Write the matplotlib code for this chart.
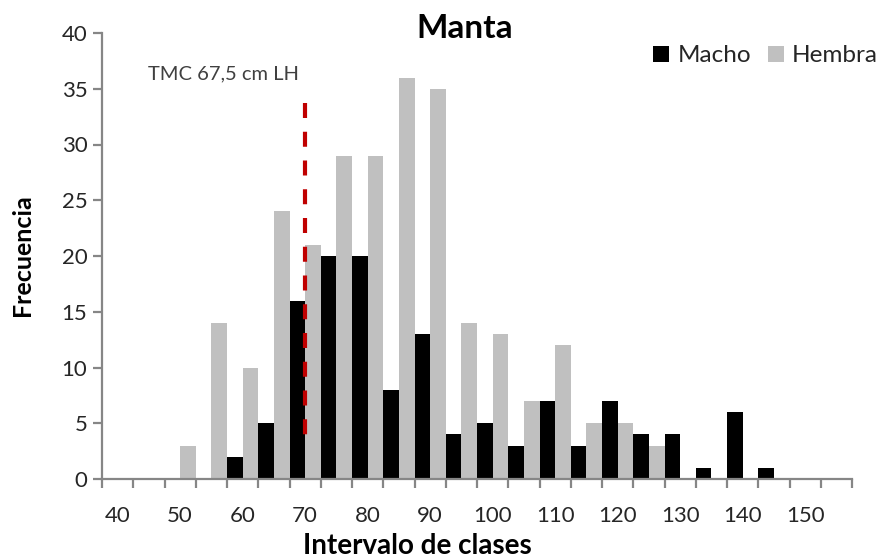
import matplotlib.pyplot as plt
import numpy as np

plt.rcParams['font.family'] = ['Lato', 'DejaVu Sans']

# clases de talla (cm LH)
clases = [40, 45, 50, 55, 60, 65, 70, 75, 80, 85, 90, 95, 100, 105, 110,
          115, 120, 125, 130, 135, 140, 145, 150, 155]
macho = [0, 0, 0, 0, 2, 5, 16, 20, 20, 8, 13, 4, 5, 3, 7, 3, 7, 4, 4, 1, 6, 1, 0, 0]
hembra = [0, 0, 3, 14, 10, 24, 21, 29, 29, 36, 35, 14, 13, 7, 12, 5, 5, 3, 0, 0, 0, 0, 0, 0]
etiquetas = [str(c) if c % 10 == 0 else '' for c in clases]

tmc_clase = 70
tmc_linea = [3.8, 33.7]

W, H = 880, 557
gris_eje = '#868686'
texto = '#262626'
fig = plt.figure(figsize=(W / 100, H / 100), dpi=100)
ax = fig.add_axes([102 / W, 1 - 479 / H, 750 / W, 446 / H])

x = np.arange(len(clases))
ax.bar(x - 0.25, macho, width=0.5, color='black', label='Macho')
ax.bar(x + 0.25, hembra, width=0.5, color='#c0c0c0', label='Hembra')

# linea del TMC
xi = clases.index(tmc_clase)
ax.plot([xi, xi], tmc_linea[::-1], color='#c00000', lw=3, ls=(0, (3.6, 3.3)))
fig.text(148 / W, 1 - 79 / H, 'TMC 67,5 cm LH', fontsize=14.5, color='#404040', va='baseline')

ax.set_xlim(-0.5, len(clases) - 0.5)
ax.set_ylim(0, 40)
ax.set_yticks(range(0, 41, 5))
ax.set_xticks(np.arange(len(clases) + 1) - 0.5)
ax.set_xticklabels([])
for i, et in enumerate(etiquetas):
    if et:
        ax.text(i, -3.82, et, ha='center', va='baseline', fontsize=16, color=texto)

for s in ['top', 'right']:
    ax.spines[s].set_visible(False)
for s in ['left', 'bottom']:
    ax.spines[s].set_color(gris_eje)
    ax.spines[s].set_linewidth(1.6)
ax.tick_params(axis='both', direction='out', length=6.5, width=1.6, color=gris_eje)
ax.tick_params(axis='y', labelsize=16, labelcolor=texto, pad=4)

fig.text(465 / W, 1 - 37.5 / H, 'Manta', fontsize=24, fontweight='bold',
         ha='center', va='baseline')
fig.text(417 / W, 1 - 553.5 / H, 'Intervalo de clases', fontsize=20, fontweight='bold',
         ha='center', va='baseline')
fig.text(23 / W, 1 - 255 / H, 'Frecuencia', fontsize=18, fontweight='bold',
         rotation=90, ha='center', va='center')

ax.legend(loc='center right', bbox_to_anchor=(878 / W, 1 - 56 / H),
          bbox_transform=fig.transFigure, ncol=2, frameon=False,
          fontsize=17.5, handlelength=0.66, handleheight=0.66, handletextpad=0.33,
          columnspacing=0.7, borderpad=0, borderaxespad=0, labelcolor=texto)

fig.savefig('out.png', dpi=100)
